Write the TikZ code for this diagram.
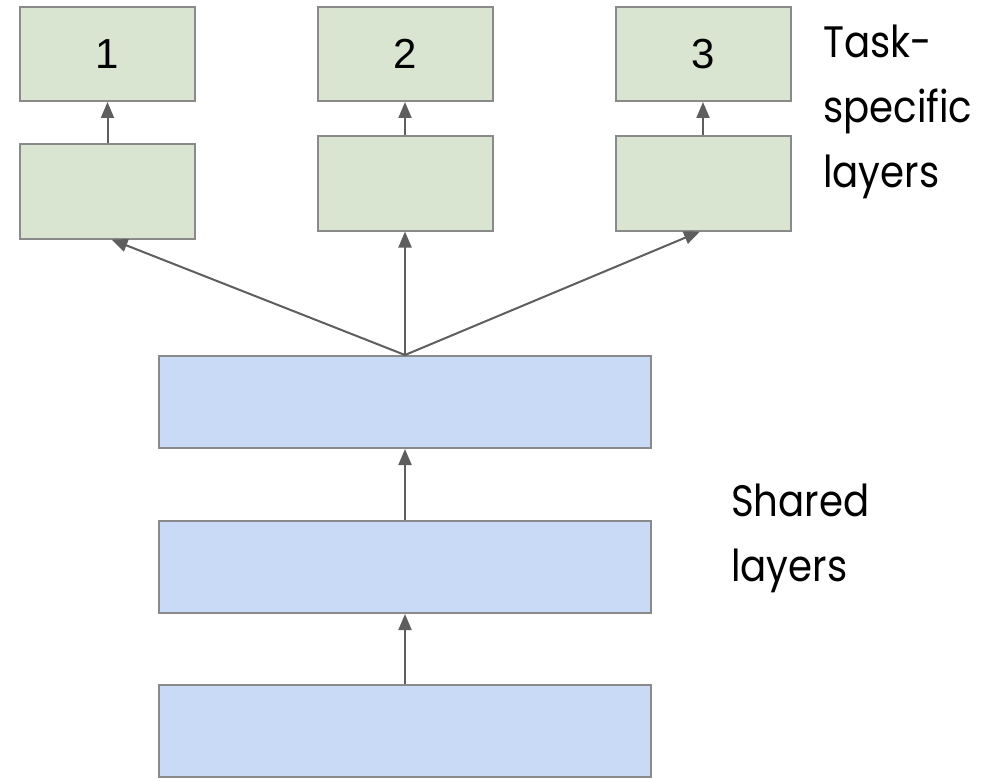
\documentclass[tikz,border=0pt]{standalone}
\usepackage{fontspec}
\setmainfont[FakeStretch=0.88]{Poppins}
\newfontfamily\numfont{Liberation Sans}
\usetikzlibrary{arrows.meta}
\definecolor{greenfill}{HTML}{D9E5D1}
\definecolor{bluefill}{HTML}{C9DAF6}
\definecolor{boxline}{HTML}{8A8A8A}
\definecolor{arrowcol}{HTML}{5E5E5E}
\begin{document}
\begin{tikzpicture}[x=1pt,y=-1pt,
  taskbox/.style={draw=boxline,fill=greenfill,line width=2pt,minimum width=175pt,minimum height=94pt,inner sep=0pt,font=\numfont\fontsize{42}{42}\selectfont},
  sharedbox/.style={draw=boxline,fill=bluefill,line width=2pt,minimum width=492pt,minimum height=92pt,inner sep=0pt},
  conn/.style={draw=arrowcol,line width=2pt,-{Triangle[width=13pt,length=16pt]}},
  label/.style={anchor=north west,inner sep=0pt,align=left,font=\fontsize{44}{65}\selectfont}]
\useasboundingbox (0,0) rectangle (1001,781);
% task-specific boxes
\node[taskbox] (o1) at (107.5,54) {1};
\node[taskbox] (o2) at (405,54) {2};
\node[taskbox] (o3) at (703,54) {3};
\node[taskbox] (h1) at (107.5,191.5) {};
\node[taskbox] (h2) at (405,183.5) {};
\node[taskbox] (h3) at (703,183.5) {};
% shared boxes
\node[sharedbox] (s3) at (405,402) {};
\node[sharedbox] (s2) at (405,567) {};
\node[sharedbox] (s1) at (405,731) {};
% connectors
\draw[conn] (h1.north) -- (o1.south);
\draw[conn] (h2.north) -- (o2.south);
\draw[conn] (h3.north) -- (o3.south);
\draw[conn] (s3.north) -- ([xshift=4pt]h1.south);
\draw[conn] (s3.north) -- (h2.south);
\draw[conn] (s3.north) -- ([xshift=-3pt]h3.south);
\draw[conn] (s1.north) -- (s2.south);
\draw[conn] (s2.north) -- (s3.south);
% labels
\node[label] (tl) at (823,25) {Task-\\specific\\layers};
\node[label] (sl) at (731,484) {Shared\\layers};
\end{tikzpicture}
\end{document}
